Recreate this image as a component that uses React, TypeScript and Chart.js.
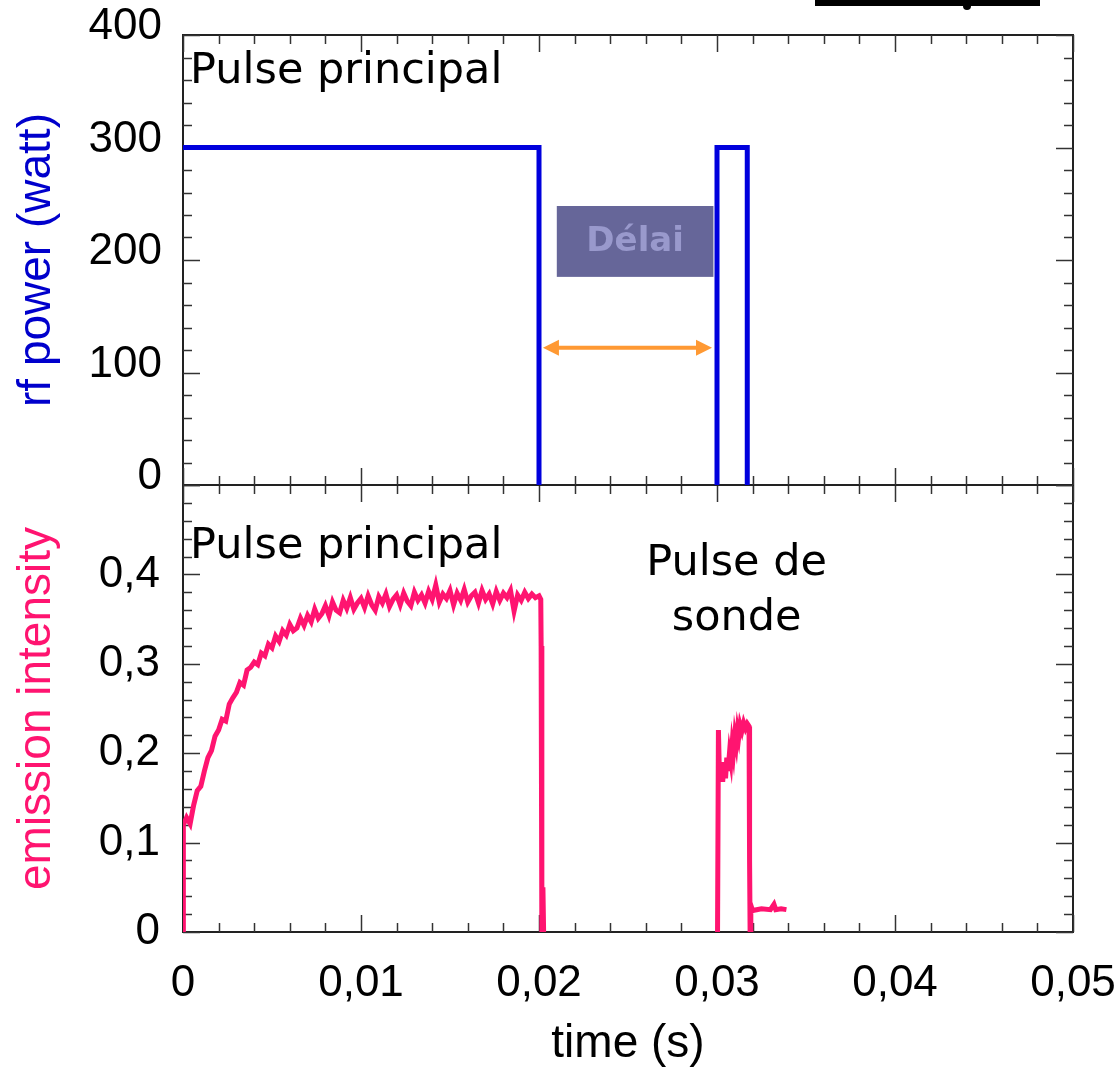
import React, { useEffect, useRef } from 'react';
import { Chart, registerables } from 'chart.js';

Chart.register(...registerables);

// ---------- data ----------
const xTickLabels = ['0', '0,01', '0,02', '0,03', '0,04', '0,05'];
const rfTickLabels = ['0', '100', '200', '300', '400'];
const emTickLabels = ['0', '0,1', '0,2', '0,3', '0,4', ''];

const rfMainTime = [0, 0.02, 0.02];
const rfMainPower = [300, 300, 0];
const rfProbeTime = [0.03, 0.03, 0.0317, 0.0317];
const rfProbePower = [0, 300, 300, 0];

const emisMainTime = [
  0, 0.00002, 0.0002, 0.0004, 0.0006, 0.0008, 0.001, 0.0012, 0.0014, 0.0016,
  0.0018, 0.002, 0.0022, 0.0024, 0.0026, 0.0028, 0.003, 0.0032, 0.0034, 0.0036,
  0.0038, 0.004, 0.0042, 0.0044, 0.0046, 0.0048, 0.005, 0.0052, 0.0054, 0.0056,
  0.0058, 0.006, 0.0062, 0.0064, 0.0066, 0.0068, 0.007, 0.0072, 0.0074, 0.0076,
  0.0078, 0.008, 0.0082, 0.0084, 0.0086, 0.0088, 0.009, 0.0092, 0.0094, 0.0096,
  0.0098, 0.01, 0.0102, 0.0104, 0.0106, 0.0108, 0.011, 0.0112, 0.0114, 0.0116,
  0.0118, 0.012, 0.0122, 0.0124, 0.0126, 0.0128, 0.013, 0.0132, 0.0134, 0.0136,
  0.0138, 0.014, 0.0142, 0.0144, 0.0146, 0.0148, 0.015, 0.0152, 0.0154, 0.0156,
  0.0158, 0.016, 0.0162, 0.0164, 0.0166, 0.0168, 0.017, 0.0172, 0.0174, 0.0176,
  0.0178, 0.018, 0.0182, 0.0184, 0.0186, 0.0188, 0.019, 0.0192, 0.0194, 0.0196,
  0.0198, 0.02, 0.0201, 0.02012, 0.02016, 0.02022, 0.02026,
];
const emisMainValue = [
  0, 0.12, 0.128, 0.121, 0.142, 0.158, 0.163, 0.18, 0.195, 0.203,
  0.219, 0.226, 0.238, 0.236, 0.255, 0.262, 0.268, 0.279, 0.276, 0.293,
  0.296, 0.302, 0.299, 0.312, 0.309, 0.322, 0.318, 0.331, 0.325, 0.337,
  0.332, 0.344, 0.337, 0.34, 0.351, 0.343, 0.354, 0.347, 0.361, 0.351,
  0.356, 0.365, 0.354, 0.369, 0.36, 0.357, 0.371, 0.362, 0.374, 0.361,
  0.368, 0.373, 0.363, 0.376, 0.366, 0.36, 0.375, 0.368, 0.378, 0.364,
  0.372, 0.377, 0.366, 0.379, 0.37, 0.365, 0.38, 0.371, 0.377, 0.368,
  0.381, 0.372, 0.388, 0.369, 0.378, 0.373, 0.382, 0.366, 0.379, 0.371,
  0.383, 0.369, 0.376, 0.38, 0.368, 0.382, 0.372, 0.378, 0.367, 0.381,
  0.371, 0.379, 0.374, 0.382, 0.359, 0.377, 0.371, 0.38, 0.373, 0.378,
  0.374, 0.376, 0.372, 0.32, 0.0, 0.05, 0.0,
];

const emisProbeTime = [
  0.03003, 0.03008, 0.03012, 0.03018, 0.03025, 0.03032, 0.0304, 0.03048, 0.03055, 0.03062,
  0.0307, 0.03078, 0.03085, 0.03092, 0.031, 0.03108, 0.03115, 0.03122, 0.0313, 0.0314,
  0.0315, 0.0316, 0.0317, 0.0318, 0.03183, 0.03186, 0.0319, 0.032, 0.0325, 0.033,
  0.0332, 0.0333, 0.0336, 0.0339,
];
const emisProbeValue = [
  0, 0.226, 0.19, 0.17, 0.188, 0.168, 0.19, 0.172, 0.195, 0.18,
  0.2, 0.19, 0.21, 0.2, 0.22, 0.21, 0.226, 0.218, 0.232, 0.225,
  0.234, 0.228, 0.233, 0.23, 0.08, 0.0, 0.03, 0.024, 0.026, 0.025,
  0.031, 0.025, 0.026, 0.025,
];

// ---------- style ----------
const NUM_FONT = '"Liberation Sans", Arial, sans-serif';
const TXT_FONT = '"DejaVu Sans", "Noto Sans", sans-serif';
const BLUE = '#0000dd';
const PINK = '#ff1470';

const zip = (xs: number[], ys: number[]) => xs.map((x, i) => ({ x, y: ys[i] }));

type FrameOpts = { yMin: number; yMinor: number; yMajorEvery: number; yCount: number };

const framePlugin = {
  id: 'frame',
  beforeDatasetsDraw(chart: any, _args: any, opts: FrameOpts) {
    const { ctx, chartArea } = chart;
    const { left, right, top, bottom } = chartArea;
    const xs = chart.scales.x;
    const ys = chart.scales.y;
    ctx.save();
    ctx.strokeStyle = '#222';
    ctx.lineWidth = 2;
    ctx.strokeRect(left, top, right - left, bottom - top);
    ctx.lineWidth = 1.5;
    ctx.strokeStyle = '#333';
    const seg = (x1: number, y1: number, x2: number, y2: number) => {
      ctx.beginPath();
      ctx.moveTo(x1, y1);
      ctx.lineTo(x2, y2);
      ctx.stroke();
    };
    for (let i = 0; i <= 25; i++) {
      const px = Math.round(xs.getPixelForValue(i * 0.002)) + 0.5;
      const len = i % 5 === 0 ? 17 : 9;
      seg(px, bottom, px, bottom - len);
      seg(px, top, px, top + len);
    }
    for (let i = 0; i <= opts.yCount; i++) {
      const py = Math.round(ys.getPixelForValue(opts.yMin + i * opts.yMinor)) + 0.5;
      const len = i % opts.yMajorEvery === 0 ? 17 : 9;
      seg(left, py, left + len, py);
      seg(right, py, right - len, py);
    }
    ctx.restore();
  },
};

const topTextPlugin = {
  id: 'topText',
  afterDraw(chart: any) {
    const { ctx } = chart;
    const xs = chart.scales.x;
    const ys = chart.scales.y;
    ctx.save();
    // cropped black artifact at the top
    ctx.fillStyle = '#000';
    ctx.fillRect(815, 0, 225, 6);
    ctx.beginPath();
    ctx.arc(967, 6, 4, 0, Math.PI * 2);
    ctx.fill();

    ctx.fillStyle = '#000';
    ctx.font = `43px ${TXT_FONT}`;
    ctx.textAlign = 'left';
    ctx.textBaseline = 'middle';
    ctx.fillText('Pulse principal', xs.getPixelForValue(0.0004), ys.getPixelForValue(367));

    // Délai box
    const bx1 = xs.getPixelForValue(0.021);
    const bx2 = xs.getPixelForValue(0.0298);
    const by1 = ys.getPixelForValue(248);
    const by2 = ys.getPixelForValue(185);
    ctx.fillStyle = '#666699';
    ctx.fillRect(bx1, by1, bx2 - bx1, by2 - by1);
    ctx.fillStyle = '#9999cc';
    ctx.font = `bold 34px ${TXT_FONT}`;
    ctx.textAlign = 'center';
    ctx.fillText('Délai', (bx1 + bx2) / 2, (by1 + by2) / 2 + 1);

    // double arrow
    const ax1 = xs.getPixelForValue(0.02022);
    const ax2 = xs.getPixelForValue(0.02972);
    const ay = ys.getPixelForValue(122);
    ctx.strokeStyle = '#ff9933';
    ctx.fillStyle = '#ff9933';
    ctx.lineWidth = 4;
    ctx.beginPath();
    ctx.moveTo(ax1 + 10, ay);
    ctx.lineTo(ax2 - 10, ay);
    ctx.stroke();
    ctx.beginPath();
    ctx.moveTo(ax1, ay);
    ctx.lineTo(ax1 + 16, ay - 8);
    ctx.lineTo(ax1 + 16, ay + 8);
    ctx.closePath();
    ctx.fill();
    ctx.beginPath();
    ctx.moveTo(ax2, ay);
    ctx.lineTo(ax2 - 16, ay - 8);
    ctx.lineTo(ax2 - 16, ay + 8);
    ctx.closePath();
    ctx.fill();
    ctx.restore();
  },
};

const bottomTextPlugin = {
  id: 'bottomText',
  afterDraw(chart: any) {
    const { ctx } = chart;
    const xs = chart.scales.x;
    const ys = chart.scales.y;
    ctx.save();
    ctx.fillStyle = '#000';
    ctx.font = `43px ${TXT_FONT}`;
    ctx.textBaseline = 'middle';
    ctx.textAlign = 'left';
    ctx.fillText('Pulse principal', xs.getPixelForValue(0.0004), ys.getPixelForValue(0.431));
    ctx.textAlign = 'center';
    ctx.fillText('Pulse de', xs.getPixelForValue(0.0311), ys.getPixelForValue(0.412));
    ctx.fillText('sonde', xs.getPixelForValue(0.0311), ys.getPixelForValue(0.35));
    ctx.restore();
  },
};

const W = 1119;
const H = 1067;
const PLOT_LEFT = 183;
const PLOT_RIGHT = 1073;
const TOP_PLOT_TOP = 35;
const JOIN = 485;
const BOTTOM_PLOT_BOTTOM = 932;

const fitY = (s: any) => {
  s.width = PLOT_LEFT;
  s.paddingTop = 0;
  s.paddingBottom = 0;
};
const fitX = (s: any) => {
  s.height = H - BOTTOM_PLOT_BOTTOM;
  s.paddingLeft = 0;
  s.paddingRight = 0;
};

export default function App() {
  const topRef = useRef<HTMLCanvasElement>(null);
  const botRef = useRef<HTMLCanvasElement>(null);

  useEffect(() => {
    const topChart = new Chart(topRef.current!, {
      type: 'line',
      data: {
        datasets: [
          { data: zip(rfMainTime, rfMainPower), borderColor: BLUE, borderWidth: 5, pointRadius: 0, tension: 0 },
          { data: zip(rfProbeTime, rfProbePower), borderColor: BLUE, borderWidth: 5, pointRadius: 0, tension: 0 },
        ],
      },
      options: {
        animation: false,
        responsive: false,
        devicePixelRatio: 1,
        layout: { padding: { top: TOP_PLOT_TOP, bottom: H - JOIN, left: 0, right: W - PLOT_RIGHT } },
        plugins: {
          legend: { display: false },
          tooltip: { enabled: false },
          frame: { yMin: 0, yMinor: 20, yMajorEvery: 5, yCount: 20 },
        } as any,
        scales: {
          x: { type: 'linear', min: 0, max: 0.05, display: false },
          y: {
            type: 'linear',
            min: 0,
            max: 400,
            afterFit: fitY,
            grid: { display: false },
            border: { display: false },
            ticks: {
              stepSize: 100,
              padding: 13,
              labelOffset: -8,
              color: '#000',
              font: { family: NUM_FONT, size: 44 },
              callback: (_v: any, i: number) => rfTickLabels[i],
            },
            title: {
              display: true,
              text: 'rf power (watt)',
              color: '#0000cc',
              font: { family: NUM_FONT, size: 46, lineHeight: 1 },
              padding: { top: 14, bottom: 0 },
            },
          },
        },
      },
      plugins: [framePlugin, topTextPlugin],
    });

    const botChart = new Chart(botRef.current!, {
      type: 'line',
      data: {
        datasets: [
          { data: zip(emisMainTime, emisMainValue), borderColor: PINK, borderWidth: 5, pointRadius: 0, tension: 0 },
          { data: zip(emisProbeTime, emisProbeValue), borderColor: PINK, borderWidth: 5, pointRadius: 0, tension: 0 },
        ],
      },
      options: {
        animation: false,
        responsive: false,
        devicePixelRatio: 1,
        layout: { padding: { top: JOIN, bottom: 0, left: 0, right: W - PLOT_RIGHT } },
        plugins: {
          legend: { display: false },
          tooltip: { enabled: false },
          frame: { yMin: 0, yMinor: 0.02, yMajorEvery: 5, yCount: 25 },
        } as any,
        scales: {
          x: {
            type: 'linear',
            min: 0,
            max: 0.05,
            afterFit: fitX,
            grid: { display: false },
            border: { display: false },
            ticks: {
              stepSize: 0.01,
              autoSkip: false,
              maxRotation: 0,
              padding: 17,
              color: '#000',
              font: { family: NUM_FONT, size: 44 },
              callback: (_v: any, i: number) => xTickLabels[i],
            },
            title: {
              display: true,
              text: 'time (s)',
              color: '#000',
              font: { family: NUM_FONT, size: 46, lineHeight: 1 },
              padding: { top: 0, bottom: 0 },
            },
          },
          y: {
            type: 'linear',
            min: 0,
            max: 0.5,
            afterFit: fitY,
            grid: { display: false },
            border: { display: false },
            ticks: {
              stepSize: 0.1,
              padding: 15,
              color: '#000',
              font: { family: NUM_FONT, size: 44 },
              callback: (_v: any, i: number) => emTickLabels[i],
            },
            title: {
              display: true,
              text: 'emission intensity',
              color: PINK,
              font: { family: NUM_FONT, size: 46, lineHeight: 1 },
              padding: { top: 14, bottom: 0 },
            },
          },
        },
      },
      plugins: [framePlugin, bottomTextPlugin],
    });

    return () => {
      topChart.destroy();
      botChart.destroy();
    };
  }, []);

  const canvasStyle: React.CSSProperties = { position: 'absolute', left: 0, top: 0, display: 'block' };
  return (
    <div style={{ position: 'absolute', left: 0, top: 0, width: W, height: H, background: '#fff' }}>
      <canvas ref={botRef} width={W} height={H} style={canvasStyle} />
      <canvas ref={topRef} width={W} height={H} style={canvasStyle} />
    </div>
  );
}
